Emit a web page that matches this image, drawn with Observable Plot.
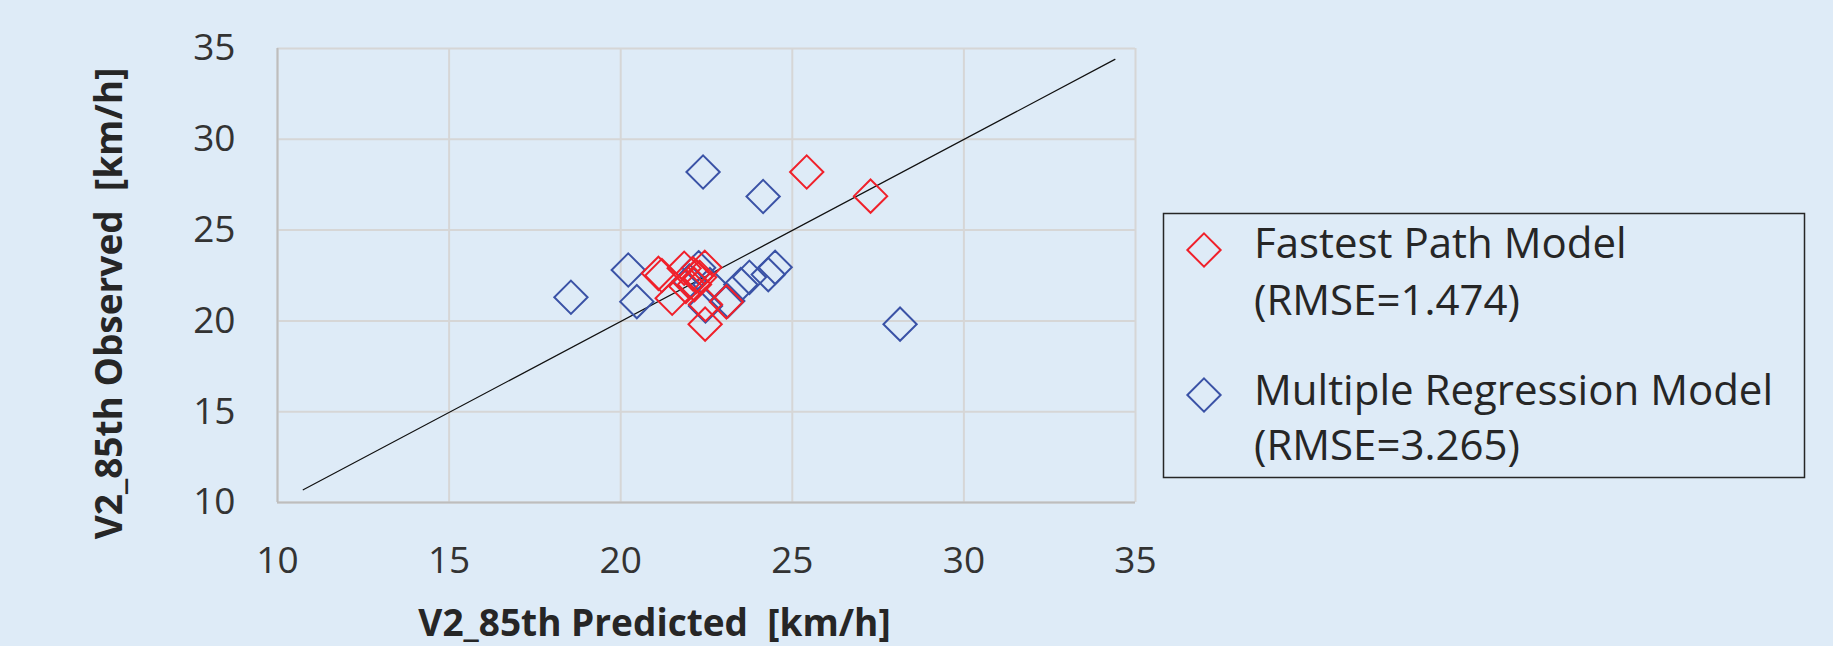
<!DOCTYPE html>
<html>
<head>
<meta charset="utf-8">
<script src="https://cdn.jsdelivr.net/npm/d3@7"></script>
<script src="https://cdn.jsdelivr.net/npm/@observablehq/plot@0.6"></script>
<style>
  html, body { margin: 0; padding: 0; background: #deebf7; }
  #wrap { position: relative; width: 1833px; height: 646px; overflow: hidden; }
  #legend { position: absolute; left: 0; top: 0; pointer-events: none; }
</style>
</head>
<body>
<div id="wrap"></div>
<script>
// ---- data ----
const fastestPredicted = [25.42, 27.28, 22.46, 21.10, 21.20, 21.85, 22.45, 22.10, 22.20, 21.50, 22.47, 23.08, 22.15, 21.90, 22.30];
const fastestObserved  = [28.20, 26.87, 19.82, 22.62, 22.50, 22.90, 22.95, 22.60, 22.45, 21.25, 20.90, 21.05, 22.00, 21.90, 22.40];
const regressionPredicted = [22.40, 24.15, 18.55, 20.22, 20.47, 28.14, 22.27, 22.60, 22.47, 23.12, 23.50, 23.75, 24.30, 24.50, 22.00];
const regressionObserved  = [28.20, 26.85, 21.30, 22.80, 21.06, 19.82, 22.93, 22.00, 20.82, 21.10, 22.00, 22.40, 22.55, 22.95, 22.20];
const lineX = [10.75, 34.40];
const lineY = [10.70, 34.40];
const tickValues = [10, 15, 20, 25, 30, 35];
const xTitle = "V2_85th Predicted\u00a0 [km/h]";
const yTitle = "V2_85th Observed\u00a0 [km/h]";
const legendLabels = [
  ["Fastest Path Model", "(RMSE=1.474)"],
  ["Multiple Regression Model", "(RMSE=3.265)"]
];
const RED = "#f0202a";
const BLUE = "#3a52a6";

const fastest = fastestPredicted.map((x, i) => ({x, y: fastestObserved[i]}));
const regression = regressionPredicted.map((x, i) => ({x, y: regressionObserved[i]}));
const diag = lineX.map((x, i) => ({x, y: lineY[i]}));

const FONT = "'Open Sans', 'Noto Sans', sans-serif";

const chart = Plot.plot({
  width: 1833,
  height: 646,
  marginLeft: 277,
  marginRight: 698,
  marginTop: 48,
  marginBottom: 144,
  style: {background: "transparent", fontFamily: FONT, color: "#333"},
  x: {domain: [10, 35]},
  y: {domain: [10, 35]},
  marks: [
    Plot.gridX(tickValues, {stroke: "#d6d6d6", strokeOpacity: 1, strokeWidth: 2}),
    Plot.gridY(tickValues, {stroke: "#d6d6d6", strokeOpacity: 1, strokeWidth: 2}),
    Plot.ruleX([10], {stroke: "#bdbdbd", strokeWidth: 2}),
    Plot.ruleY([10], {stroke: "#bdbdbd", strokeWidth: 2}),
    Plot.axisX(tickValues, {tickSize: 0, tickPadding: 44, fontSize: 37, label: null, fill: "#333"}),
    Plot.axisY(tickValues, {tickSize: 0, tickPadding: 42, fontSize: 37, label: null, fill: "#333"}),
    Plot.line(diag, {x: "x", y: "y", stroke: "#111", strokeWidth: 1.2}),
    Plot.dot(regression, {x: "x", y: "y", symbol: "diamond2", r: 15, stroke: BLUE, strokeWidth: 2, fill: "none"}),
    Plot.dot(fastest, {x: "x", y: "y", symbol: "diamond2", r: 15, stroke: RED, strokeWidth: 2, fill: "none"}),
    Plot.text([xTitle], {text: d => d, frameAnchor: "bottom", dx: -52, dy: 122, fontSize: 37, fontWeight: "bold", fill: "#262626", textAnchor: "middle", lineAnchor: "middle"}),
    Plot.text([yTitle], {text: d => d, frameAnchor: "left", rotate: -90, dx: -167, dy: 28, fontSize: 37, fontWeight: "bold", fill: "#262626", textAnchor: "middle", lineAnchor: "middle"})
  ]
});
document.getElementById("wrap").appendChild(chart);

// ---- legend overlay ----
const svg = d3.select("#wrap").append("svg")
  .attr("id", "legend").attr("width", 1833).attr("height", 646);
svg.append("rect")
  .attr("x", 1163.5).attr("y", 213.5).attr("width", 641).attr("height", 264)
  .attr("fill", "none").attr("stroke", "#262626").attr("stroke-width", 1.5);
const entries = [
  {color: RED, cy: 250, lines: legendLabels[0], base: [258, 315]},
  {color: BLUE, cy: 395, lines: legendLabels[1], base: [405, 460]}
];
const sym = d3.symbol(d3.symbolDiamond2, Math.PI * 15 * 15);
entries.forEach(e => {
  svg.append("path").attr("d", sym()).attr("transform", `translate(1204,${e.cy})`)
    .attr("fill", "none").attr("stroke", e.color).attr("stroke-width", 2);
  e.lines.forEach((t, i) => {
    svg.append("text").attr("x", 1254).attr("y", e.base[i])
      .attr("font-family", FONT).attr("font-size", 42).attr("fill", "#262626")
      .text(t);
  });
});
</script>
</body>
</html>
